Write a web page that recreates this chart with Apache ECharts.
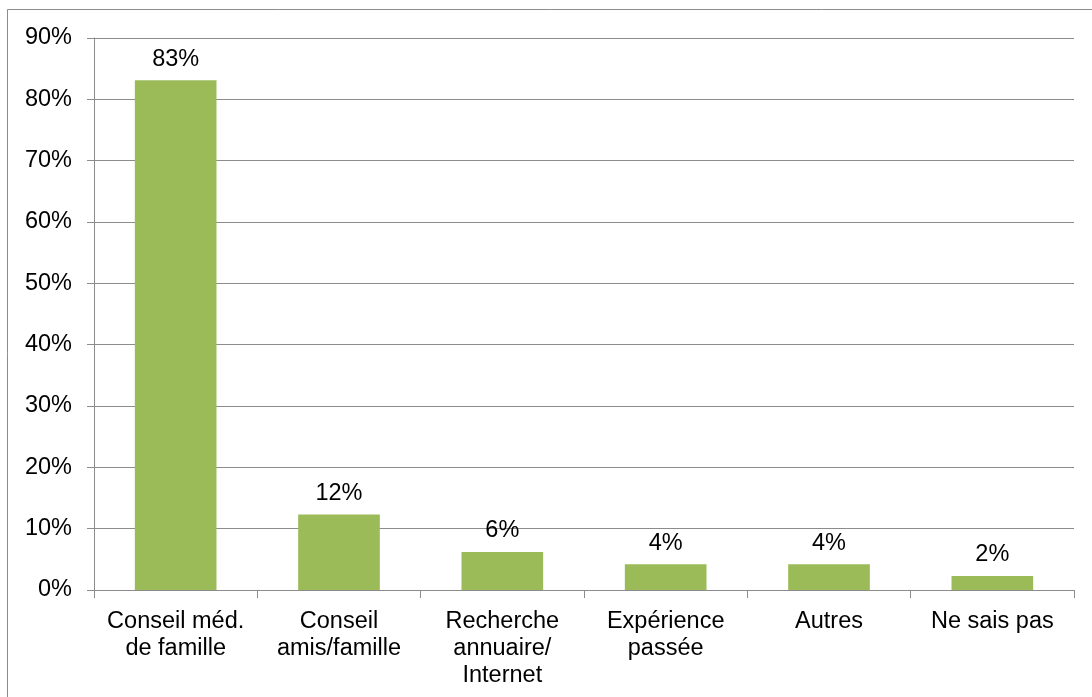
<!DOCTYPE html>
<html>
<head>
<meta charset="utf-8">
<script src="https://cdn.jsdelivr.net/npm/echarts@6/dist/echarts.min.js"></script>
<style>
html,body{margin:0;padding:0;background:#fff;}
#c{width:1092px;height:697px;}
</style>
</head>
<body>
<div id="c"></div>
<script>
const categories = ["Conseil méd.\nde famille", "Conseil\namis/famille", "Recherche\nannuaire/\nInternet", "Expérience\npassée", "Autres", "Ne sais pas"];
const values = [83.1, 12.3, 6.2, 4.2, 4.2, 2.3];
const yTicks = { min: 0, max: 90, interval: 10 };

const font = "'Liberation Sans', Arial, sans-serif";
const chart = echarts.init(document.getElementById('c'), null, { renderer: 'canvas' });
chart.setOption({
  animation: false,
  backgroundColor: '#fff',
  graphic: [{
    type: 'rect',
    shape: { x: 7.5, y: 9.5, width: 1200, height: 1000 },
    style: { fill: 'none', stroke: '#8c8c8c', lineWidth: 1 },
    silent: true
  }],
  grid: { left: 94, right: 18, top: 38, bottom: 107, containLabel: false },
  xAxis: {
    type: 'category',
    data: categories,
    axisLine: { show: true, lineStyle: { color: '#8c8c8c', width: 1 } },
    axisTick: { show: true, length: 8, alignWithLabel: false, lineStyle: { color: '#8c8c8c' } },
    axisLabel: { color: '#000', fontFamily: font, fontSize: 23.5, lineHeight: 27, margin: 18, interval: 0 },
    splitLine: { show: false }
  },
  yAxis: {
    type: 'value',
    min: yTicks.min, max: yTicks.max, interval: yTicks.interval,
    axisLine: { show: true, lineStyle: { color: '#8c8c8c', width: 1 } },
    axisTick: { show: true, length: 7, inside: false, lineStyle: { color: '#8c8c8c' } },
    axisLabel: { color: '#000', fontFamily: font, fontSize: 23.5, margin: 22, formatter: '{value}%' },
    splitLine: { show: true, lineStyle: { color: '#8c8c8c', width: 1 } }
  },
  series: [{
    type: 'bar',
    data: values,
    barWidth: '50%',
    itemStyle: { color: '#9BBB59' },
    label: {
      show: true, position: 'top', distance: 9,
      color: '#000', fontFamily: font, fontSize: 23.5, lineHeight: 24,
      formatter: p => Math.round(p.value) + '%'
    }
  }]
});
</script>
</body>
</html>
